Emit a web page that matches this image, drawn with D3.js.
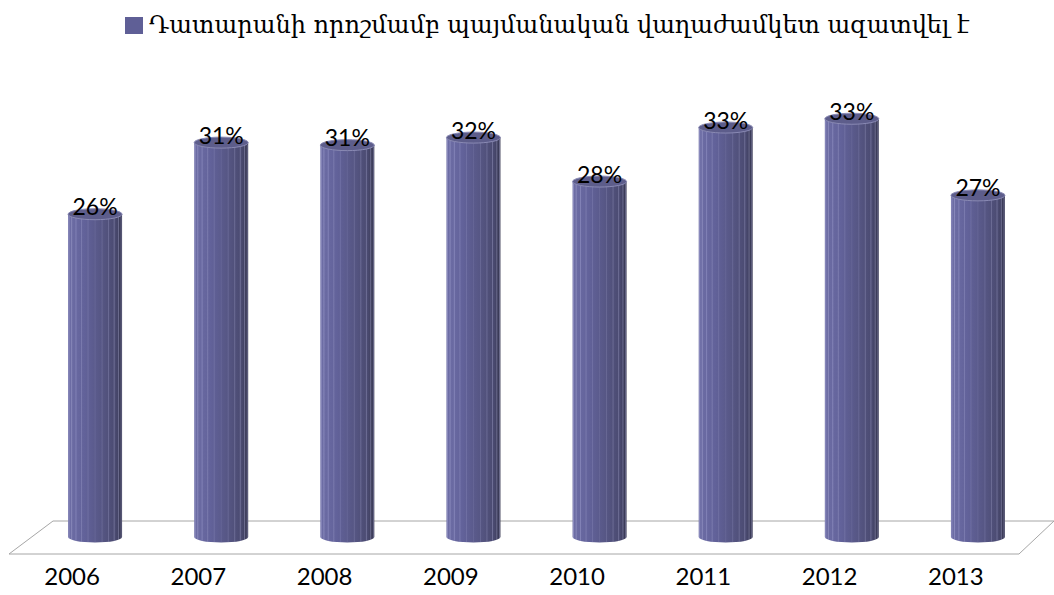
<!DOCTYPE html>
<html>
<head>
<meta charset="UTF-8">
<title>Cylinders</title>
<script src="https://cdn.jsdelivr.net/npm/d3@7"></script>
<style>
    body { margin: 0; background: #fff; }
</style>
</head>
<body>
<div id="chart"></div>
<script>
var years = ['2006', '2007', '2008', '2009', '2010', '2011', '2012', '2013'];
var values = [25.7, 31.4, 31.2, 31.8, 28.3, 32.6, 33.3, 27.2];
var seriesName = 'Դատարանի որոշմամբ պայմանական վաղաժամկետ ազատվել է';

var width = 1054, height = 595;
var svg = d3.select('#chart').append('svg')
    .attr('width', width).attr('height', height);

// cylinders stand in the middle of the floor depth, labels sit on the front edge
var x = d3.scaleBand().domain(years).range([32, 1041]);
var xFront = d3.scaleBand().domain(years).range([9, 1019]);
var y = d3.scaleLinear().domain([0, 35]).range([537, 537 - 35 * 12.56]);

var r = 27, ry = 5.5;

var defs = svg.append('defs');
var grad = defs.append('linearGradient').attr('id', 'body')
    .attr('x1', 0).attr('x2', 1).attr('y1', 0).attr('y2', 0);
[[0, '#6e6ea6'], [0.3, '#62629a'], [0.65, '#555582'], [0.88, '#4a4a70'], [1, '#34344d']]
    .forEach(function(s) {
        grad.append('stop').attr('offset', s[0]).attr('stop-color', s[1]);
    });

// floor
svg.append('path')
    .attr('d', 'M9,554 L1019,554 L1054,521 L53,521 Z')
    .attr('fill', 'none')
    .attr('stroke', '#a6a6a6')
    .attr('stroke-width', 1);

var bars = svg.selectAll('.bar')
    .data(values)
    .enter().append('g')
    .attr('class', 'bar')
    .attr('transform', function(d, i) {
        return 'translate(' + (x(years[i]) + x.bandwidth() / 2) + ',0)';
    });

bars.append('path')
    .attr('d', function(d) {
        var t = y(d), b = y(0);
        return 'M' + (-r) + ',' + t + ' L' + (-r) + ',' + b +
            ' A' + r + ',' + ry + ' 0 0 0 ' + r + ',' + b +
            ' L' + r + ',' + t + ' Z';
    })
    .attr('fill', 'url(#body)');

// facet lines of the polygonal cylinder, faint in the middle
var facets = d3.range(1, 12).map(function(k) { return k * Math.PI / 12; });
bars.each(function(d) {
    var g = d3.select(this);
    g.selectAll('line').data(facets).enter().append('line')
        .attr('x1', function(a) { return -r * Math.cos(a); })
        .attr('x2', function(a) { return -r * Math.cos(a); })
        .attr('y1', y(d) + 2)
        .attr('y2', function(a) { return y(0) + ry * Math.sin(a); })
        .attr('stroke', '#bcbce4')
        .attr('stroke-opacity', function(a) { return 0.15 + 0.35 * Math.abs(Math.cos(a)); })
        .attr('stroke-width', 0.8);
});

bars.append('ellipse')
    .attr('cx', 0)
    .attr('cy', function(d) { return y(d); })
    .attr('rx', r).attr('ry', ry)
    .attr('fill', '#5d5d8b')
    .attr('stroke', '#8a8ab4')
    .attr('stroke-width', 1);

bars.append('text')
    .attr('x', 0)
    .attr('y', function(d) { return y(d) + 1; })
    .attr('text-anchor', 'middle')
    .style('font-family', 'Lato, "Open Sans", sans-serif')
    .style('font-size', '23px')
    .attr('fill', '#000')
    .text(function(d) { return Math.round(d) + '%'; });

// category axis
var axis = svg.append('g')
    .attr('transform', 'translate(0,568)')
    .call(d3.axisBottom(xFront).tickSize(0).tickPadding(0));
axis.select('.domain').remove();
axis.selectAll('text')
    .attr('dy', '0.71em')
    .style('font-family', 'Lato, "Open Sans", sans-serif')
    .style('font-size', '24px')
    .attr('fill', '#000');

// legend
var legend = svg.append('g').attr('class', 'legend');
legend.append('rect')
    .attr('x', 125).attr('y', 17)
    .attr('width', 18).attr('height', 17)
    .attr('fill', '#5f5f96');
legend.append('text')
    .attr('x', 149).attr('y', 33)
    .style('font-family', '"DejaVu Serif", serif')
    .style('font-size', '24px')
    .attr('fill', '#000')
    .text(seriesName);
</script>
</body>
</html>
